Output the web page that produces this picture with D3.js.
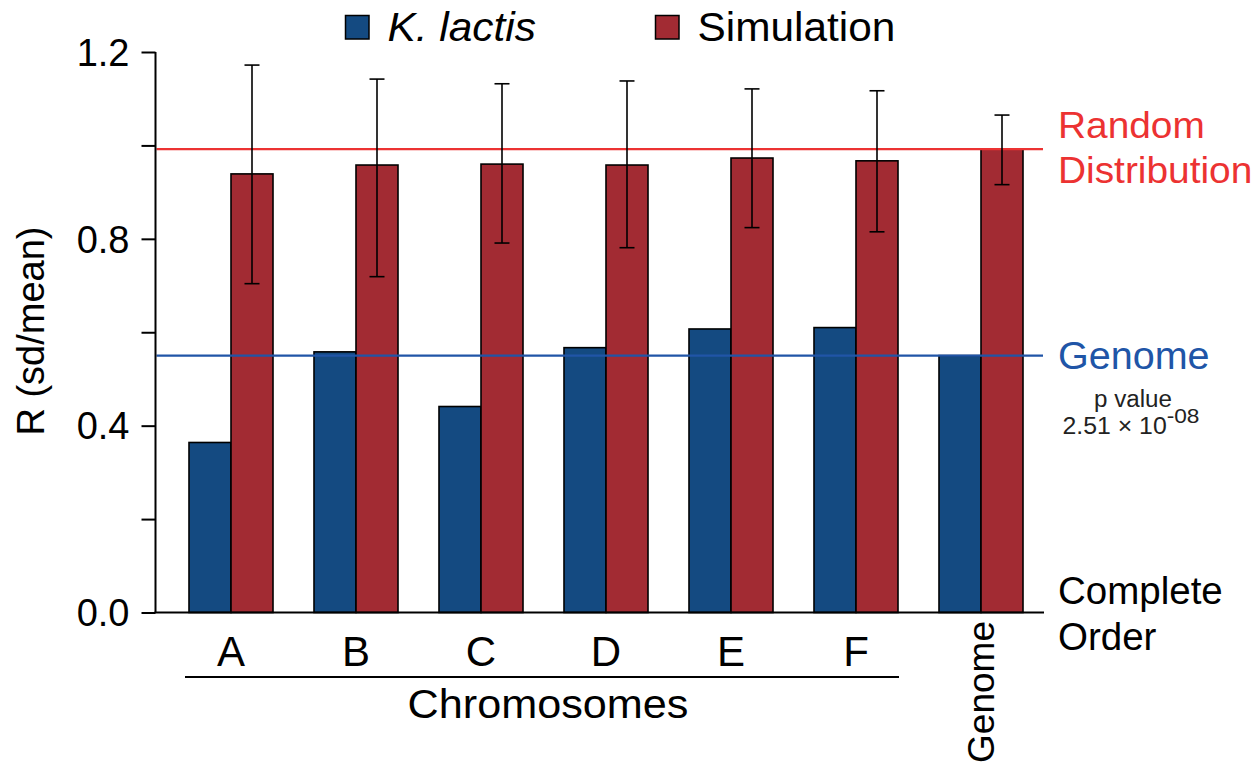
<!DOCTYPE html>
<html>
<head>
<meta charset="utf-8">
<script src="https://cdn.jsdelivr.net/npm/d3@7"></script>
<style>
  html, body { margin: 0; padding: 0; background: #fff; }
  svg { display: block; font-family: "Liberation Sans", Arial, sans-serif; }
</style>
</head>
<body>
<svg id="chart" width="1257" height="768"></svg>
<script>
// Groups along the x axis: six chromosomes plus the whole genome
const groups = ["A", "B", "C", "D", "E", "F", "Genome"];
const series = ["K. lactis", "Simulation"];

// R (sd/mean) observed for K. lactis
const lactisValues = [0.364, 0.558, 0.441, 0.567, 0.607, 0.610, 0.550];
// R (sd/mean) for simulated random distributions, with error bar bounds
const simValues = [0.939, 0.958, 0.960, 0.958, 0.973, 0.967, 0.992];
const simLow    = [0.704, 0.719, 0.791, 0.781, 0.824, 0.815, 0.916];
const simHigh   = [1.172, 1.142, 1.132, 1.138, 1.121, 1.117, 1.065];

// Reference levels
const randomLevel = 0.992;
const genomeLevel = 0.550;

const yMajorTicks = [0.0, 0.4, 0.8, 1.2];
const yMinorTicks = [0.2, 0.6, 1.0];

const colors = { lactis: "#144a81", sim: "#a22b33", randomLine: "#ec3232", genomeLine: "#2055a7" };

const svg = d3.select("#chart");

// Text helper: places a label with an optional horizontal stretch
function label(x, y, str, size, opts = {}) {
  const sx = opts.sx || 1;
  const rot = opts.rotate ? ` rotate(${opts.rotate})` : "";
  return svg.append("text")
    .attr("transform", `translate(${x},${y})${rot} scale(${sx},1)`)
    .attr("text-anchor", opts.anchor || "start")
    .attr("font-size", size)
    .attr("font-style", opts.italic ? "italic" : "normal")
    .attr("fill", opts.fill || "#000")
    .text(str);
}

const y = d3.scaleLinear().domain([0, 1.2]).range([612.5, 52]);
const x = d3.scaleBand().domain(groups).range([168.5, 1043.5]).paddingInner(0.328).paddingOuter(0.164);
const xs = d3.scaleBand().domain(series).range([0, x.bandwidth()]);

const axisX = 155.5;
const plotRight = 1043;

// Bars
const g = svg.append("g");
groups.forEach((grp, i) => {
  const gx = x(grp);
  g.append("rect")
    .attr("x", gx + xs(series[0]))
    .attr("y", y(lactisValues[i]))
    .attr("width", xs.bandwidth())
    .attr("height", y(0) - y(lactisValues[i]))
    .attr("fill", colors.lactis)
    .attr("stroke", "#000").attr("stroke-width", 1.6);
  g.append("rect")
    .attr("x", gx + xs(series[1]))
    .attr("y", y(simValues[i]))
    .attr("width", xs.bandwidth())
    .attr("height", y(0) - y(simValues[i]))
    .attr("fill", colors.sim)
    .attr("stroke", "#000").attr("stroke-width", 1.6);
});

// Reference lines
svg.append("line")
  .attr("x1", axisX + 1).attr("x2", plotRight)
  .attr("y1", y(randomLevel)).attr("y2", y(randomLevel))
  .attr("stroke", colors.randomLine).attr("stroke-width", 2.2);
svg.append("line")
  .attr("x1", axisX + 1).attr("x2", plotRight)
  .attr("y1", y(genomeLevel)).attr("y2", y(genomeLevel))
  .attr("stroke", colors.genomeLine).attr("stroke-width", 2.2);

// Error bars on the simulation bars
groups.forEach((grp, i) => {
  const cx = x(grp) + xs(series[1]) + xs.bandwidth() / 2;
  const eg = svg.append("g").attr("stroke", "#000").attr("stroke-width", 1.6);
  eg.append("line").attr("x1", cx).attr("x2", cx).attr("y1", y(simHigh[i])).attr("y2", y(simLow[i]));
  eg.append("line").attr("x1", cx - 7.5).attr("x2", cx + 7.5).attr("y1", y(simHigh[i])).attr("y2", y(simHigh[i]));
  eg.append("line").attr("x1", cx - 7.5).attr("x2", cx + 7.5).attr("y1", y(simLow[i])).attr("y2", y(simLow[i]));
});

// Y axis
const yAxis = d3.axisLeft(y).tickValues(yMajorTicks).tickFormat(d3.format(".1f")).tickSize(14).tickPadding(12);
const ya = svg.append("g").attr("transform", `translate(${axisX},0)`).call(yAxis);
ya.select(".domain").attr("d", `M0,${y(1.2)}V${y(0)}`).attr("stroke-width", 2);
ya.selectAll(".tick line").attr("stroke-width", 2);
ya.selectAll(".tick text").attr("font-size", 38).attr("fill", "#000").attr("dy", "0.35em")
  .attr("font-family", "Liberation Sans, Arial, sans-serif");
const yMinor = d3.axisLeft(y).tickValues(yMinorTicks).tickSize(14).tickFormat("");
const ym = svg.append("g").attr("transform", `translate(${axisX},0)`).call(yMinor);
ym.select(".domain").remove();
ym.selectAll(".tick line").attr("stroke-width", 2);

// Baseline
svg.append("line")
  .attr("x1", axisX - 1).attr("x2", plotRight + 1)
  .attr("y1", y(0)).attr("y2", y(0))
  .attr("stroke", "#000").attr("stroke-width", 2);

// Y axis title
label(44, 331, "R (sd/mean)", 38, { rotate: -90, anchor: "middle" });

// Category labels
const chromosomes = groups.slice(0, 6);
chromosomes.forEach(c => {
  label(x(c) + x.bandwidth() / 2, 666, c, 42, { anchor: "middle" });
});
svg.append("line")
  .attr("x1", x("A") + x.bandwidth() / 2 - 46).attr("x2", x("F") + x.bandwidth() / 2 + 43)
  .attr("y1", 677).attr("y2", 677)
  .attr("stroke", "#000").attr("stroke-width", 2);
label(548, 718, "Chromosomes", 40, { anchor: "middle", sx: 1.08 });
label(x("Genome") + x.bandwidth() / 2 + 13, 621, "Genome", 37, { rotate: -90, anchor: "end" });

// Right side annotations
const rx = 1058;
label(rx, 138, "Random", 37, { fill: colors.randomLine, sx: 1.05 });
label(rx, 183, "Distribution", 37, { fill: colors.randomLine, sx: 1.05 });
label(rx, 369, "Genome", 38, { fill: colors.genomeLine, sx: 1.04 });
label(1133, 407, "p value", 23, { anchor: "middle", fill: "#222", sx: 1.05 });
const pv = label(1131, 434, "", 23, { anchor: "middle", fill: "#222", sx: 1.08 });
pv.append("tspan").text("2.51 × 10");
pv.append("tspan").attr("dy", -11).attr("font-size", 21).text("-08");
label(rx, 604, "Complete", 38.5);
label(rx, 650, "Order", 38.5);

// Legend
const legend = [
  { label: "K. lactis", color: colors.lactis, x: 345.5, italic: true },
  { label: "Simulation", color: colors.sim, x: 655.5, italic: false }
];
legend.forEach(l => {
  svg.append("rect").attr("x", l.x).attr("y", 15.5).attr("width", 23.5).attr("height", 23.5)
    .attr("fill", l.color).attr("stroke", "#000").attr("stroke-width", 1.5);
  label(l.x + 42, 41, l.label, 40, { italic: l.italic, sx: 1.06 });
});
</script>
</body>
</html>
